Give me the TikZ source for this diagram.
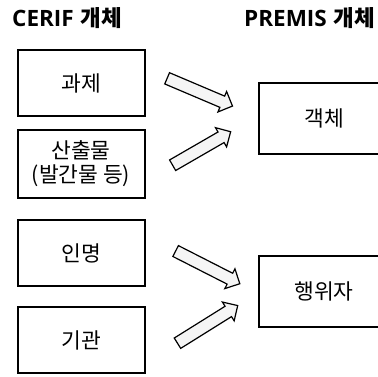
\documentclass[tikz,border=0pt]{standalone}
\usepackage{fontspec}
\setmainfont{Noto Sans CJK KR}
\newfontfamily\latinfont{Open Sans}
\usetikzlibrary{shapes.arrows}
\begin{document}
\begin{tikzpicture}[x=1pt,y=-1pt,
    box/.style={draw,line width=2pt,minimum width=127pt,minimum height=66pt,align=center,
        font=\fontsize{21.5}{24}\selectfont},
    title/.style={inner sep=0pt,anchor=west,font=\fontsize{22.5}{26}\selectfont\bfseries},
    fat/.style={single arrow,draw,fill=gray!8,line width=1.2pt,inner xsep=0pt,inner ysep=5.5pt,
        single arrow head extend=5pt,minimum height=#1}]
    \useasboundingbox (0,0) rectangle (378,376);
    \clip (0,0) rectangle (378,376);
    \node[title] (cerif) at (12,18) {{\latinfont CERIF}\hspace{7pt}개체};
    \node[title] (premis) at (244,18) {{\latinfont PREMIS}\hspace{7pt}개체};
    \node[box] (project) at (81,83) {과제};
    \node[box,minimum height=68pt] (output) at (81,164) {산출물\\(발간물 등)};
    \node[box] (person) at (81,253) {인명};
    \node[box] (org) at (81,340) {기관};
    \node[box,minimum width=130pt,minimum height=71pt] (object) at (324,118) {객체};
    \node[box,minimum width=130pt,minimum height=71pt] (agent) at (324,291) {행위자};
    \node[fat=71pt,rotate=-23] (a1) at (197,91) {};
    \node[fat=67pt,rotate=30] (a2) at (199,150) {};
    \node[fat=72pt,rotate=-27] (a3) at (205,266) {};
    \node[fat=71pt,rotate=32] (a4) at (205,326) {};
\end{tikzpicture}
\end{document}
